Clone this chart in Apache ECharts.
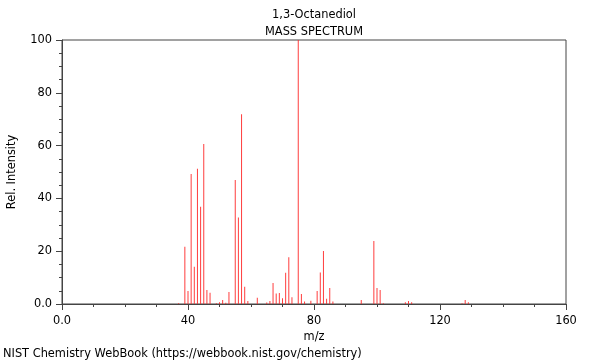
<!DOCTYPE html>
<html>
<head>
<meta charset="utf-8">
<script src="https://cdn.jsdelivr.net/npm/echarts@6/dist/echarts.min.js"></script>
<style>html,body{margin:0;padding:0;background:#fff}#c{width:600px;height:360px}</style>
</head>
<body>
<div id="c"></div>
<script>
var mz = [37, 39, 40, 41, 42, 43, 44, 45, 46, 47, 49, 50, 51, 52, 53, 55, 56, 57, 58, 59, 62, 65, 66, 67, 68, 69, 70, 71, 72, 73, 75, 76, 77, 79, 81, 82, 83, 84, 85, 86, 95, 99, 100, 101, 102, 109, 110, 111, 127, 128, 129];
var intensity = [0.3, 21.7, 4.9, 49.2, 14.1, 51.2, 36.8, 60.6, 5.3, 4.3, 0.3, 0.7, 1.5, 0.5, 4.5, 47.0, 32.8, 71.9, 6.5, 1.1, 2.4, 0.6, 1.1, 8.0, 4.0, 4.2, 2.2, 11.8, 17.7, 2.6, 100, 3.8, 0.9, 1.2, 4.9, 11.9, 20.1, 2.0, 6.1, 0.9, 1.5, 23.9, 6.1, 5.3, 0.3, 0.7, 1.1, 0.7, 0.3, 1.5, 0.7];
var xTicks = [0, 40, 80, 120, 160];
var yTicks = [0, 20, 40, 60, 80, 100];
var titleLines = ['1,3-Octanediol', 'MASS SPECTRUM'];
var footer = 'NIST Chemistry WebBook (https://webbook.nist.gov/chemistry)';

var data = mz.map(function (m, i) { return [m, intensity[i]]; });
var font = 'DejaVu Sans';
var fs = 11.4;
var chart = echarts.init(document.getElementById('c'), null, {renderer: 'canvas'});
chart.setOption({
  animation: false,
  grid: {left: 62, right: 34, top: 40, bottom: 56, containLabel: false, outerBoundsMode: 'none',
    show: true, borderColor: '#444', borderWidth: 1, backgroundColor: 'transparent'},
  graphic: [
    {type: 'text', x: 314, y: 10, style: {text: titleLines[0], font: fs + 'px ' + font, fill: '#000', align: 'center'}},
    {type: 'text', x: 314, y: 27, style: {text: titleLines[1], font: fs + 'px ' + font, fill: '#000', align: 'center'}},
    {type: 'text', left: 3, top: 349, style: {text: footer, font: fs + 'px ' + font, fill: '#000'}}
  ],
  xAxis: {
    type: 'value', min: xTicks[0], max: xTicks[xTicks.length - 1], interval: 40,
    name: 'm/z', nameLocation: 'middle', nameGap: 24,
    nameTextStyle: {fontFamily: font, fontSize: fs, color: '#000'},
    axisLine: {show: true, lineStyle: {color: '#444', width: 1}},
    axisTick: {show: true, inside: false, length: 6, lineStyle: {color: '#444'}},
    minorTick: {show: true, splitNumber: 4, length: 3, lineStyle: {color: '#444'}},
    splitLine: {show: false},
    axisLabel: {fontFamily: font, fontSize: fs, color: '#000', margin: 12,
      formatter: function (v) { return v === 0 ? '0.0' : String(v); }}
  },
  yAxis: {
    type: 'value', min: yTicks[0], max: yTicks[yTicks.length - 1], interval: 20,
    name: 'Rel. Intensity', nameLocation: 'middle', nameGap: 44,
    nameTextStyle: {fontFamily: font, fontSize: fs, color: '#000'},
    axisLine: {show: true, lineStyle: {color: '#444', width: 1}},
    axisTick: {show: true, inside: false, length: 6, lineStyle: {color: '#444'}},
    minorTick: {show: true, splitNumber: 4, length: 3, lineStyle: {color: '#444'}},
    splitLine: {show: false},
    axisLabel: {fontFamily: font, fontSize: fs, color: '#000', margin: 10,
      formatter: function (v) { return v === 0 ? '0.0' : String(v); }}
  },
  series: [{
    type: 'bar', data: data, barWidth: 1, barGap: '0%',
    itemStyle: {color: 'rgba(255,40,40,0.9)'},
    silent: true
  }]
});
</script>
</body>
</html>
